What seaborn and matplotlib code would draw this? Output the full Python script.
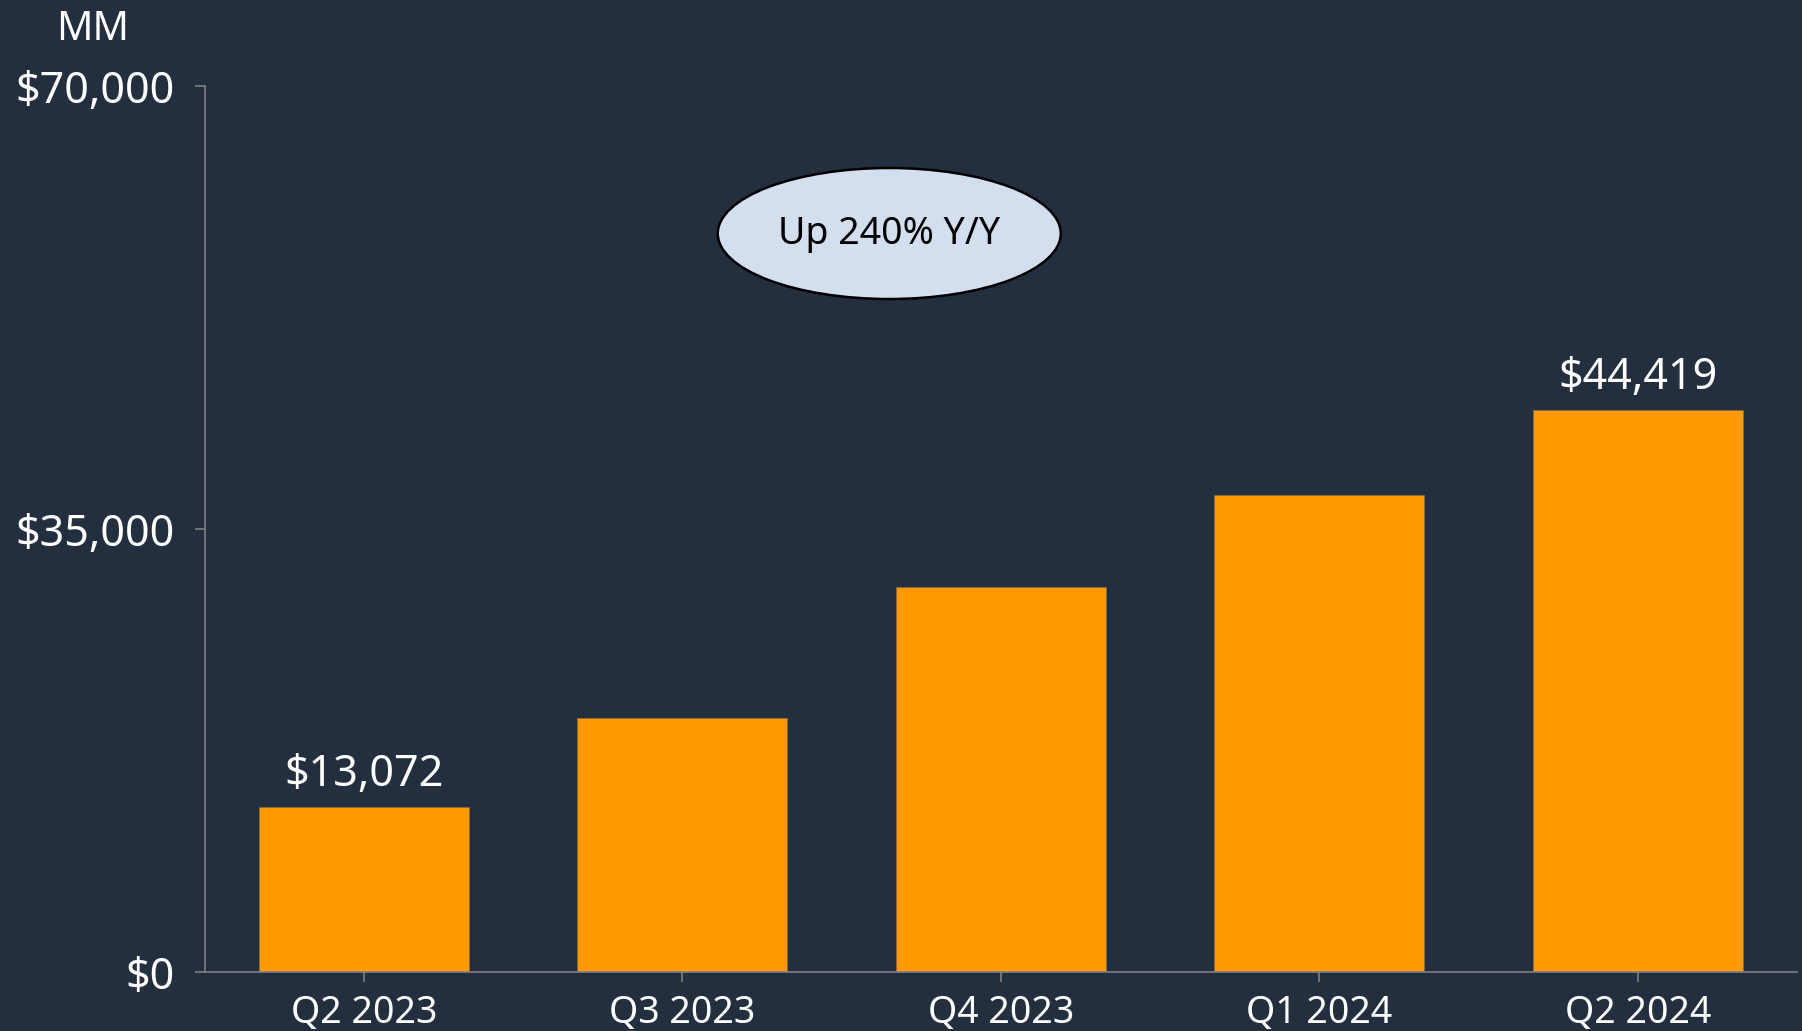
import matplotlib
matplotlib.use("Agg")
import matplotlib.pyplot as plt
from matplotlib.patches import Ellipse
import seaborn as sns
import pandas as pd

# Dados do gráfico
quarters = ["Q2 2023", "Q3 2023", "Q4 2023", "Q1 2024", "Q2 2024"]
values = [13072, 20079, 30425, 37684, 44419]
bar_labels = ["$13,072", "", "", "", "$44,419"]
y_ticks = [0, 35000, 70000]
y_tick_labels = ["$0", "$35,000", "$70,000"]
unit_label = "MM"
callout = "Up 240% Y/Y"

BG = "#232f3e"
ORANGE = "#ff9900"
AXIS = "#7f7f7f"

sns.set_style("white")
plt.rcParams["font.family"] = ["Noto Sans", "DejaVu Sans"]

df = pd.DataFrame({"quarter": quarters, "value": values})

fig = plt.figure(figsize=(18.02, 10.31), dpi=100, facecolor=BG)
ax = fig.add_axes([0.1135, 0.0572, 0.8837, 0.8592])
ax.set_facecolor(BG)

sns.barplot(data=df, x="quarter", y="value", color=ORANGE, width=0.66,
            saturation=1, edgecolor="#8a6a3a", linewidth=0.6, ax=ax)

ax.set_xlim(-0.5, 4.5)
ax.set_ylim(0, 70000)
ax.set_yticks(y_ticks)
ax.set_yticklabels(y_tick_labels)
ax.set_xlabel("")
ax.set_ylabel("")

for side in ["top", "right"]:
    ax.spines[side].set_visible(False)
for side in ["left", "bottom"]:
    ax.spines[side].set_color(AXIS)
    ax.spines[side].set_linewidth(1.2)

ax.tick_params(axis="y", direction="out", length=7.5, width=1.2, color=AXIS,
               labelcolor="white", labelsize=31, pad=14, left=True)
ax.tick_params(axis="x", direction="out", length=7.5, width=1.2, color=AXIS,
               labelcolor="white", labelsize=27, pad=8, bottom=True)

ax.bar_label(ax.containers[0], labels=bar_labels, padding=7, color="white",
             fontsize=31)

# Balão de destaque
ell = Ellipse((0.430, 0.8337), 0.2154, 0.1479, transform=ax.transAxes,
              facecolor="#d3deef", edgecolor="black", linewidth=1.8, zorder=5)
ax.add_patch(ell)
ax.text(0.430, 0.8337, callout, transform=ax.transAxes, ha="center",
        va="center", fontsize=27, color="black", zorder=6)

fig.text(0.0516, 0.971, unit_label, ha="center", va="center", fontsize=29,
         color="white")

fig.savefig("out.png", dpi=100, facecolor=BG)
